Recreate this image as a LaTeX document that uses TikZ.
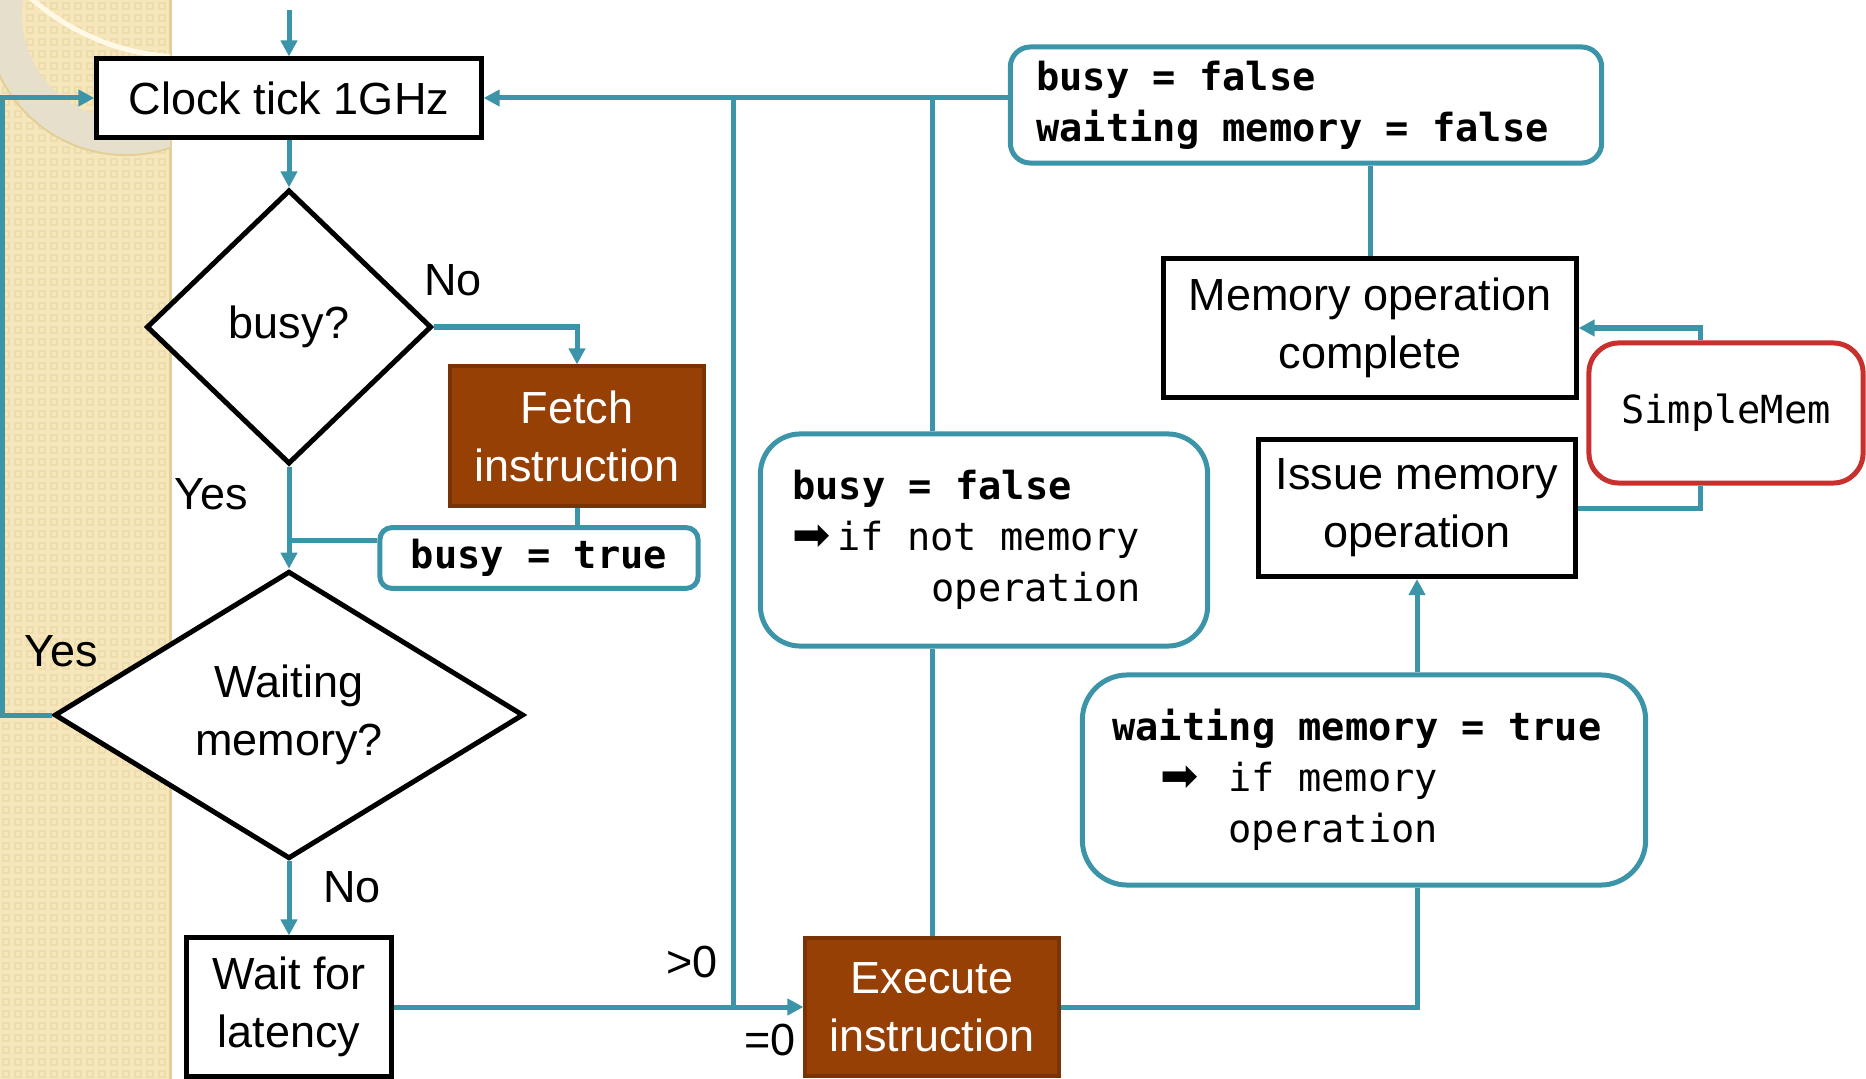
\documentclass[tikz,border=0pt]{standalone}
\usepackage{fontspec}
\setmainfont{Liberation Sans}
\setmonofont{DejaVu Sans Mono}
\newfontfamily\arrowfont{DejaVu Sans}
\usetikzlibrary{arrows.meta, shapes.geometric}
\definecolor{flowteal}{HTML}{3C94A8}
\definecolor{actbrown}{HTML}{964006}
\definecolor{actedge}{HTML}{7A3305}
\definecolor{memred}{HTML}{C8302E}
\definecolor{stripbeige}{HTML}{F6E6BC}
\definecolor{stripdot}{HTML}{EEDCAC}
\definecolor{stripedge}{HTML}{E3CF98}
\definecolor{ringgray}{HTML}{E6DFCC}
\definecolor{ringlight}{HTML}{FFF9E6}

\newcommand{\sansbig}{\fontsize{12.8}{16.5}\selectfont}
\newcommand{\monosize}{\fontsize{11}{14.5}\selectfont\ttfamily}
% fixed-width spaces inside ragged nodes
\newcommand{\monospaces}{\spaceskip=0pt\xspaceskip=0pt\relax}
\newcommand{\memarrow}{{\arrowfont\fontsize{13}{14.5}\selectfont ➡}}

\begin{document}
\begin{tikzpicture}[x=0.01cm, y=-0.01cm,
  >={Triangle[length=1.6mm, width=1.6mm]},
  flow/.style={draw=flowteal, line width=0.05cm},
  procbox/.style={draw=black, line width=0.05cm, fill=white, align=center, font=\sansbig},
  actbox/.style={draw=actedge, line width=0.04cm, fill=actbrown, text=white, align=center, font=\sansbig},
  decision/.style={diamond, draw=black, line width=0.05cm, fill=white, align=center, inner sep=0pt, font=\sansbig},
  flagbox/.style={draw=flowteal, line width=0.05cm, fill=white, font=\monosize},
  lbl/.style={font=\sansbig, inner sep=0pt}]

\useasboundingbox (0,0) rectangle (1866,1079);

% Left margin strip with its small squares
\fill[stripbeige] (0,0) rectangle (170,1079);
\foreach \i in {0,...,13}
  \foreach \j in {0,...,89}
    \draw[stripdot, line width=0.02cm] (\i*12+3,\j*12+3) rectangle ++(6,6);
\draw[stripedge, line width=0.03cm] (170,0) -- (170,1079);

% Ring in the corner
\begin{scope}
  \clip (0,0) rectangle (170,1079);
  \fill[ringgray, even odd rule] (126,15) circle (1.40cm) (126,15) circle (1.04cm);
  \draw[stripedge, line width=0.02cm] (126,15) circle (1.40cm);
  \draw[ringlight, line width=0.05cm] (187,-179) circle (2.36cm);
\end{scope}

% Left column
\node[procbox, minimum width=3.84cm, minimum height=0.78cm] (clock) at (289,98) {Clock tick 1GHz};
\node[decision, minimum width=2.85cm, minimum height=2.74cm] (busyq) at (289,327) {busy?};
\node[actbox, minimum width=2.54cm, minimum height=1.39cm] (fetch) at (577,436) {Fetch\\instruction};
\node[flagbox, rounded corners=0.12cm, minimum width=3.18cm, minimum height=0.59cm] (busyset) at (539,558) {\textbf{busy = true}};
\node[decision, minimum width=4.69cm, minimum height=2.70cm] (waitq) at (289,715) {Waiting\\memory?};
\node[procbox, minimum width=2.05cm, minimum height=1.38cm] (latency) at (289,1007) {Wait for\\latency};

% Execution and memory side
\node[actbox, minimum width=2.53cm, minimum height=1.38cm] (exec) at (932,1007) {Execute\\instruction};
\node[flagbox, rounded corners=0.4cm, align=flush left, text width=3.83cm, inner xsep=0.32cm, minimum height=2.12cm] (notmem) at (984,540)
  {\monospaces\textbf{busy = false}\\\makebox[0.45cm][l]{\memarrow}if not memory\\\hspace*{1.39cm}operation};
\node[flagbox, rounded corners=0.2cm, align=flush left, text width=5.39cm, inner xsep=0.26cm, minimum height=1.16cm] (reset) at (1306,105)
  {\monospaces\textbf{busy = false}\\\textbf{waiting memory = false}};
\node[procbox, minimum width=4.12cm, minimum height=1.38cm] (memdone) at (1370,328) {Memory operation\\complete};
\node[flagbox, draw=memred, rounded corners=0.3cm, minimum width=2.74cm, minimum height=1.40cm] (simplemem) at (1726,413) {SimpleMem};
\node[procbox, minimum width=3.17cm, minimum height=1.37cm] (issue) at (1417,508) {Issue memory\\operation};
\node[flagbox, rounded corners=0.45cm, align=flush left, text width=5.03cm, inner xsep=0.30cm, minimum height=2.10cm] (ismem) at (1364,780)
  {\monospaces\textbf{waiting memory = true}\\\hspace*{0.48cm}\makebox[0.68cm][l]{\memarrow}if memory\\\hspace*{1.16cm}operation};

% Connectors
\coordinate (entry) at (289,10);
\draw[flow, ->] (entry) -- (clock.north);
\draw[flow, ->] (clock.south) -- (busyq.north);
\draw[flow, ->] (busyq.east) -| (fetch.north);
\draw[flow] (fetch.south) -- (fetch.south |- busyset.north);
\coordinate (joinA) at ([yshift=0.17cm]busyset.west);
\draw[flow] (joinA) -- (joinA -| busyq.south);
\draw[flow, ->] (busyq.south) -- (waitq.north);
\draw[flow, ->] (waitq.west) -- ++(-49,0) |- (clock.west);
\draw[flow, ->] (waitq.south) -- (latency.north);
\draw[flow, ->] (latency.east) -- (exec.west);
\coordinate (split) at (733,1007);
\draw[flow] (split) -- (split |- clock.east);
\draw[flow, ->] (reset.west |- clock.east) -- (clock.east);
\draw[flow] (exec.north) -- (exec.north |- notmem.south);
\draw[flow] (exec.north |- notmem.north) -- (exec.north |- clock.east);
\draw[flow] (reset.south -| memdone.north) -- (memdone.north);
\coordinate (memtap) at ([xshift=-0.26cm]simplemem.north);
\draw[flow, ->] (memtap) |- (memdone.east);
\coordinate (memret) at ([xshift=-0.26cm]simplemem.south);
\draw[flow] (issue.east) -| (memret);
\draw[flow, ->] (ismem.north -| issue.south) -- (issue.south);
\draw[flow] (ismem.south -| issue.south) |- (exec.east);

% Branch labels
\node[lbl] (nobusy) at (453,280) {No};
\node[lbl] (yesbusy) at (211,494) {Yes};
\node[lbl] (yeswait) at (61,651) {Yes};
\node[lbl] (nowait) at (352,887) {No};
\node[lbl] (gtzero) at (692,962) {>0};
\node[lbl] (eqzero) at (770,1040) {=0};

\end{tikzpicture}
\end{document}
